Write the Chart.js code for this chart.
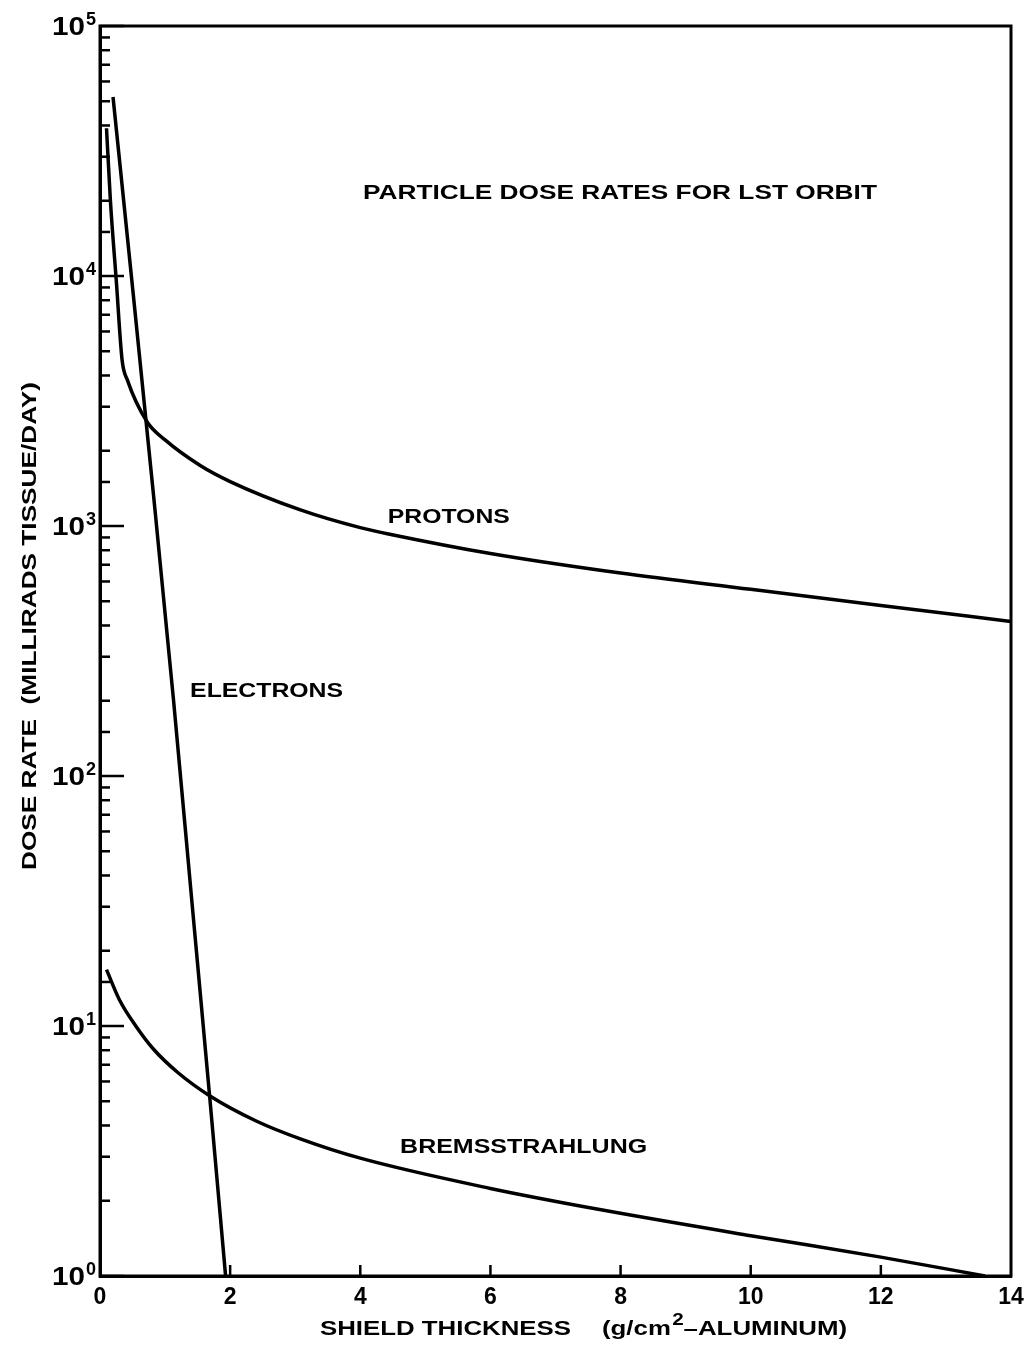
<!DOCTYPE html>
<html>
<head>
<meta charset="utf-8">
<script src="https://cdn.jsdelivr.net/npm/chart.js@4.4.1/dist/chart.umd.min.js"></script>
<style>
  html, body { margin: 0; padding: 0; background: #fff; }
  #wrap { width: 1026px; height: 1351px; }
</style>
</head>
<body>
<div id="wrap"><canvas id="doseChart" width="1026" height="1351"></canvas></div>
<script>
// values (shield thickness in g/cm2, dose in millirads/day)
const protonX = [0.1, 0.16, 0.25, 0.34, 0.42, 0.725, 1.0, 1.54, 2, 3.08, 4, 4.47, 6, 8, 10, 12, 14];
const protonY = [39000, 20000, 9600, 4600, 3840, 2606, 2210, 1746, 1506, 1160, 985, 925, 776, 648, 558, 481, 415];

const electronX = [0.2, 0.52, 0.83, 1.13, 1.41, 1.69, 1.93];
const electronY = [52000, 8020, 1270, 201, 31.9, 5.06, 1];

const bremX = [0.1, 0.3, 0.55, 0.82, 1.2, 1.69, 2.4, 3.1, 4, 6, 7.7, 10, 12, 13.6];
const bremY = [16.8, 12.7, 10, 8.09, 6.5, 5.25, 4.17, 3.52, 2.96, 2.24, 1.84, 1.45, 1.19, 1.0];

const xTicks = [0, 2, 4, 6, 8, 10, 12, 14];
const yDecades = [1, 10, 100, 1000, 10000, 100000];

// labels written inside the plot, anchored in data units: [text, x, y]
const notes = [
  ["PARTICLE DOSE RATES FOR LST ORBIT", 7.99, 21500],
  ["PROTONS", 5.36, 1087],
  ["ELECTRONS", 2.56, 219],
  ["BREMSSTRAHLUNG", 6.51, 3.28]
];
const noteWidths = [514, 122, 153, 247];

function pts(xs, ys) {
  let out = [];
  for (var i = 0; i < xs.length; i++) out.push({x: xs[i], y: ys[i]});
  return out;
}

const FONT = "'Liberation Sans', Arial, sans-serif";

// the scan uses a wide bold gothic, so stretch text sideways to its width
function wideText(ctx, text, x, y, size, width, align) {
  ctx.font = 'bold ' + size + 'px ' + FONT;
  const sx = width / ctx.measureText(text).width;
  ctx.save();
  ctx.translate(x, y);
  ctx.scale(sx, 1);
  ctx.textAlign = align;
  ctx.fillText(text, 0, 0);
  ctx.restore();
  return sx;
}

const frame = {
  id: 'frame',
  afterDatasetsDraw(chart) {
    const ctx = chart.ctx;
    const a = chart.chartArea;
    const xs = chart.scales.x, ys = chart.scales.y;
    ctx.save();
    ctx.strokeStyle = '#000';
    ctx.fillStyle = '#000';
    ctx.lineWidth = 3;
    ctx.strokeRect(a.left, a.top, a.right - a.left, a.bottom - a.top);

    // inward ticks on the y axis
    ctx.lineWidth = 2.5;
    ys.ticks.forEach(t => {
      const v = t.value;
      if (v < 1 || v > 100000) return;
      const py = ys.getPixelForValue(v);
      const major = yDecades.indexOf(v) >= 0;
      ctx.beginPath();
      ctx.moveTo(a.left, py);
      ctx.lineTo(a.left + (major ? 24 : 10), py);
      ctx.stroke();
    });
    // inward ticks on the x axis
    xTicks.forEach(v => {
      if (v === 0 || v === 14) return;
      const px = xs.getPixelForValue(v);
      ctx.beginPath();
      ctx.moveTo(px, a.bottom);
      ctx.lineTo(px, a.bottom - 11);
      ctx.stroke();
    });

    // decade labels 10^n
    ctx.textBaseline = 'alphabetic';
    yDecades.forEach((v, n) => {
      const py = ys.getPixelForValue(v);
      wideText(ctx, '10', 85, py + 9, 25, 33, 'right');
      ctx.font = 'bold 18px ' + FONT;
      ctx.textAlign = 'left';
      ctx.fillText(String(n), 86, py - 1);
    });

    // in-plot notes
    ctx.textBaseline = 'middle';
    notes.forEach((n, i) => {
      wideText(ctx, n[0], xs.getPixelForValue(n[1]), ys.getPixelForValue(n[2]), 21, noteWidths[i], 'center');
    });

    // x axis title
    ctx.textBaseline = 'alphabetic';
    const sx = wideText(ctx, 'SHIELD THICKNESS', 320, 1335, 20, 251, 'left');
    ctx.save();
    ctx.translate(602, 1335);
    ctx.scale(sx, 1);
    ctx.textAlign = 'left';
    ctx.font = 'bold 20px ' + FONT;
    let w = ctx.measureText('(g/cm').width;
    ctx.fillText('(g/cm', 0, 0);
    ctx.font = 'bold 16px ' + FONT;
    ctx.fillText('2', w + 1, -10);
    w += ctx.measureText('2').width + 1;
    ctx.font = 'bold 20px ' + FONT;
    ctx.fillText('\u2013ALUMINUM)', w, 0);
    ctx.restore();

    // y axis title
    ctx.save();
    ctx.translate(30, 626);
    ctx.rotate(-Math.PI / 2);
    ctx.textBaseline = 'middle';
    wideText(ctx, 'DOSE RATE  (MILLIRADS TISSUE/DAY)', 0, 0, 20, 488, 'center');
    ctx.restore();
    ctx.restore();
  }
};

const lineStyle = {
  borderColor: '#000',
  backgroundColor: '#000',
  borderWidth: 3.5,
  pointRadius: 0,
  fill: false,
  cubicInterpolationMode: 'monotone'
};

new Chart(document.getElementById('doseChart'), {
  type: 'line',
  data: {
    datasets: [
      Object.assign({label: 'Protons', data: pts(protonX, protonY)}, lineStyle),
      Object.assign({label: 'Electrons', data: pts(electronX, electronY)}, lineStyle),
      Object.assign({label: 'Bremsstrahlung', data: pts(bremX, bremY)}, lineStyle)
    ]
  },
  options: {
    responsive: false,
    animation: false,
    layout: { padding: { top: 26, right: 15, left: 0, bottom: 0 } },
    plugins: {
      legend: { display: false },
      tooltip: { enabled: false },
      title: { display: false }
    },
    scales: {
      x: {
        type: 'linear',
        min: 0,
        max: 14,
        afterBuildTicks(axis) {
          axis.ticks = xTicks.map(v => ({value: v}));
        },
        afterFit(axis) { axis.height = 75; },
        grid: { display: false },
        border: { display: true, color: '#000', width: 3 },
        ticks: {
          color: '#000',
          padding: 0,
          font: { family: FONT, size: 23, weight: 'bold' }
        },
        title: { display: false }
      },
      y: {
        type: 'logarithmic',
        min: 1,
        max: 100000,
        afterFit(axis) { axis.width = 100; },
        grid: { display: false },
        border: { display: true, color: '#000', width: 3 },
        ticks: { display: false },
        title: { display: false }
      }
    }
  },
  plugins: [frame]
});
</script>
</body>
</html>
